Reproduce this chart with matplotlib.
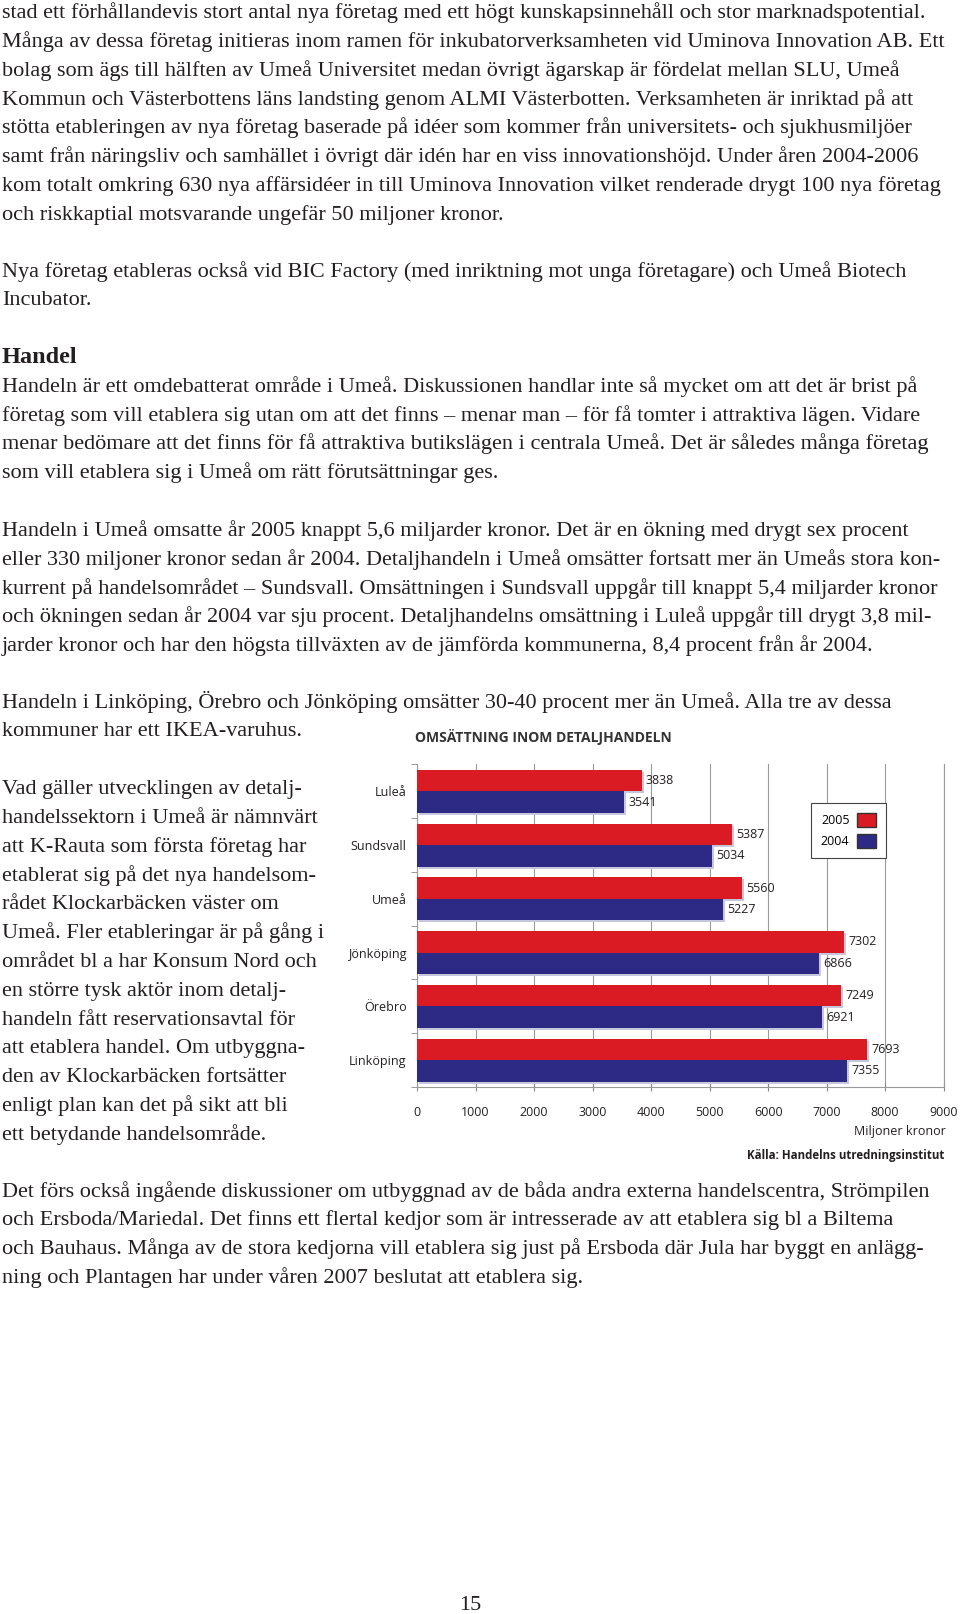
import numpy as np
import matplotlib.pyplot as plt
import matplotlib.patheffects as pe
from matplotlib.patches import Patch

# chart data
cities = ['Luleå', 'Sundsvall', 'Umeå', 'Jönköping', 'Örebro', 'Linköping']
sales_2005 = [3838, 5387, 5560, 7302, 7249, 7693]
sales_2004 = [3541, 5034, 5227, 6866, 6921, 7355]
x_ticks = [0, 1000, 2000, 3000, 4000, 5000, 6000, 7000, 8000, 9000]

# page text
para1 = [
    "stad ett förhållandevis stort antal nya företag med ett högt kunskapsinnehåll och stor marknadspotential.",
    "Många av dessa företag initieras inom ramen för inkubatorverksamheten vid Uminova Innovation AB. Ett",
    "bolag som ägs till hälften av Umeå Universitet medan övrigt ägarskap är fördelat mellan SLU, Umeå",
    "Kommun och Västerbottens läns landsting genom ALMI Västerbotten. Verksamheten är inriktad på att",
    "stötta etableringen av nya företag baserade på idéer som kommer från universitets- och sjukhusmiljöer",
    "samt från näringsliv och samhället i övrigt där idén har en viss innovationshöjd. Under åren 2004-2006",
    "kom totalt omkring 630 nya affärsidéer in till Uminova Innovation vilket renderade drygt 100 nya företag",
    "och riskkaptial motsvarande ungefär 50 miljoner kronor.",
]
para2 = [
    "Nya företag etableras också vid BIC Factory (med inriktning mot unga företagare) och Umeå Biotech",
    "Incubator.",
]
para3 = [
    "Handeln är ett omdebatterat område i Umeå. Diskussionen handlar inte så mycket om att det är brist på",
    "företag som vill etablera sig utan om att det finns – menar man – för få tomter i attraktiva lägen. Vidare",
    "menar bedömare att det finns för få attraktiva butikslägen i centrala Umeå. Det är således många företag",
    "som vill etablera sig i Umeå om rätt förutsättningar ges.",
]
para4 = [
    "Handeln i Umeå omsatte år 2005 knappt 5,6 miljarder kronor. Det är en ökning med drygt sex procent",
    "eller 330 miljoner kronor sedan år 2004. Detaljhandeln i Umeå omsätter fortsatt mer än Umeås stora kon-",
    "kurrent på handelsområdet – Sundsvall. Omsättningen i Sundsvall uppgår till knappt 5,4 miljarder kronor",
    "och ökningen sedan år 2004 var sju procent. Detaljhandelns omsättning i Luleå uppgår till drygt 3,8 mil-",
    "jarder kronor och har den högsta tillväxten av de jämförda kommunerna, 8,4 procent från år 2004.",
]
para5 = [
    "Handeln i Linköping, Örebro och Jönköping omsätter 30-40 procent mer än Umeå. Alla tre av dessa",
    "kommuner har ett IKEA-varuhus.",
]
side = [
    "Vad gäller utvecklingen av detalj-",
    "handelssektorn i Umeå är nämnvärt",
    "att K-Rauta som första företag har",
    "etablerat sig på det nya handelsom-",
    "rådet Klockarbäcken väster om",
    "Umeå. Fler etableringar är på gång i",
    "området bl a har Konsum Nord och",
    "en större tysk aktör inom detalj-",
    "handeln fått reservationsavtal för",
    "att etablera handel. Om utbyggna-",
    "den av Klockarbäcken fortsätter",
    "enligt plan kan det på sikt att bli",
    "ett betydande handelsområde.",
]
para6 = [
    "Det förs också ingående diskussioner om utbyggnad av de båda andra externa handelscentra, Strömpilen",
    "och Ersboda/Mariedal. Det finns ett flertal kedjor som är intresserade av att etablera sig bl a Biltema",
    "och Bauhaus. Många av de stora kedjorna vill etablera sig just på Ersboda där Jula har byggt en anlägg-",
    "ning och Plantagen har under våren 2007 beslutat att etablera sig.",
]

RED = '#DA1B23'
BLUE = '#2D2A86'
TEXT = '#231F20'
SERIF = ['Liberation Serif', 'DejaVu Serif']
SANS = ['Open Sans', 'DejaVu Sans']
LINE = 28.8

fig = plt.figure(figsize=(9.6, 16.14), dpi=100)

# page layer in pixel coordinates
page = fig.add_axes([0, 0, 1, 1])
page.set_xlim(0, 960)
page.set_ylim(1614, 0)
page.axis('off')


def put_lines(lines, y_mid, x=2, size=16):
    for i, line in enumerate(lines):
        page.text(x, y_mid + 7 + i * LINE, line, fontsize=size, family=SERIF,
                  va='baseline', ha='left', color=TEXT)


put_lines(para1, 11.3)
put_lines(para2, 269.6)
page.text(2, 363, 'Handel', fontsize=17.5, family=SERIF, weight='bold',
          va='baseline', color=TEXT)
put_lines(para3, 384.8)
put_lines(para4, 529.0)
put_lines(para5, 700.7)
put_lines(side, 787.2)
put_lines(para6, 1189.5)
page.text(470, 1606, '15', fontsize=16, family=SERIF, ha='center',
          va='center', color=TEXT)

# chart titles and notes
page.text(415, 737, 'OMSÄTTNING INOM DETALJHANDELN', fontsize=10,
          family=SANS, weight='bold', va='center', color='#333333')
page.text(946, 1131, 'Miljoner kronor', fontsize=9, family=SANS,
          ha='right', va='center', color=TEXT)
page.text(944, 1155, 'Källa: Handelns utredningsinstitut', fontsize=8.3,
          family=SANS, weight='bold', ha='right', va='center', color=TEXT)

# bar chart
ax = fig.add_axes([417 / 960, 1 - 1087 / 1614, 526.6 / 960, 322.6 / 1614])
y = np.arange(len(cities))
shadow = [pe.SimplePatchShadow(offset=(1.5, -1.5), shadow_rgbFace='#c6c6dc',
                               alpha=1.0), pe.Normal()]
b05 = ax.barh(y - 0.2, sales_2005, height=0.4, color=RED, zorder=3)
b04 = ax.barh(y + 0.2, sales_2004, height=0.4, color=BLUE, zorder=3)
for bar in list(b05) + list(b04):
    bar.set_path_effects(shadow)

for bars in (b05, b04):
    labels = ax.bar_label(bars, padding=3, fontsize=9, color=TEXT)
    for t in labels:
        t.set_family(SANS)

ax.set_xlim(0, 9000)
ax.set_ylim(5.5, -0.5)
ax.set_xticks(x_ticks)
ax.set_xticklabels([str(v) for v in x_ticks], family=SANS, fontsize=9, color=TEXT)
ax.set_yticks(y)
ax.set_yticklabels(cities, family=SANS, fontsize=9, color=TEXT)
ax.set_yticks(np.arange(-0.5, len(cities), 1), minor=True)
ax.tick_params(axis='y', which='major', length=0, pad=7.5)
ax.tick_params(axis='y', which='minor', length=4, direction='out', color='#888888')
ax.tick_params(axis='x', direction='inout', length=6, pad=11, color='#888888')
ax.xaxis.grid(True, color='#9a9a9a', lw=0.8)
ax.set_axisbelow(True)
ax.spines['top'].set_visible(False)
for s in ('left', 'bottom', 'right'):
    ax.spines[s].set_color('#9a9a9a')
    ax.spines[s].set_linewidth(0.8)

leg = ax.legend(handles=[Patch(fc=RED, ec='#333333', label='2005'),
                         Patch(fc=BLUE, ec='#333333', label='2004')],
                loc='upper left', bbox_to_anchor=(0.748, 0.880),
                markerfirst=False, fancybox=False, edgecolor='#444444',
                framealpha=1, borderpad=0.8, borderaxespad=0,
                handlelength=1.5, handleheight=1.3, handletextpad=0.6,
                labelspacing=0.55, prop={'family': SANS, 'size': 9})
leg.get_frame().set_linewidth(0.8)

fig.savefig('out.png', dpi=100)
